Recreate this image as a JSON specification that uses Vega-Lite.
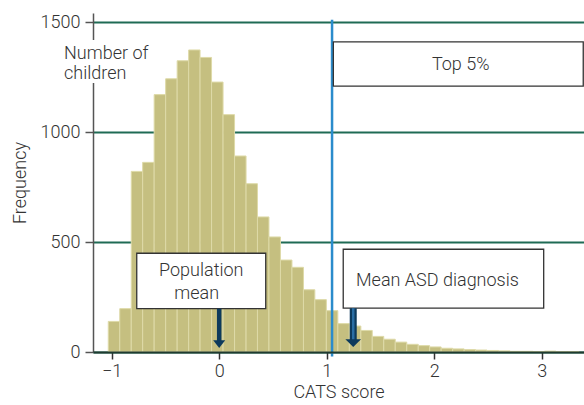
{
  "$schema": "https://vega.github.io/schema/vega-lite/v6.json",
  "width": 491,
  "height": 339,
  "autosize": {"type": "none"},
  "padding": {"left": 93, "top": 13, "right": 0, "bottom": 53},
  "config": {
    "view": {"stroke": null},
    "font": "Roboto",
    "axis": {
      "labelFont": "Roboto",
      "titleFont": "Roboto",
      "labelFontSize": 18,
      "titleFontSize": 18,
      "labelFontWeight": 300,
      "titleFontWeight": 300,
      "labelColor": "#333333",
      "titleColor": "#333333"
    }
  },
  "datasets": {
    "bins": [
      {"x": -1.032, "x2": -0.925, "y": 139},
      {"x": -0.925, "x2": -0.818, "y": 197},
      {"x": -0.818, "x2": -0.712, "y": 821},
      {"x": -0.712, "x2": -0.605, "y": 862},
      {"x": -0.605, "x2": -0.498, "y": 1170},
      {"x": -0.498, "x2": -0.391, "y": 1242},
      {"x": -0.391, "x2": -0.284, "y": 1324},
      {"x": -0.284, "x2": -0.178, "y": 1373},
      {"x": -0.178, "x2": -0.071, "y": 1339},
      {"x": -0.071, "x2": 0.036, "y": 1227},
      {"x": 0.036, "x2": 0.143, "y": 1079},
      {"x": 0.143, "x2": 0.25, "y": 891},
      {"x": 0.25, "x2": 0.356, "y": 765},
      {"x": 0.356, "x2": 0.463, "y": 614},
      {"x": 0.463, "x2": 0.57, "y": 523},
      {"x": 0.57, "x2": 0.677, "y": 418},
      {"x": 0.677, "x2": 0.784, "y": 385},
      {"x": 0.784, "x2": 0.89, "y": 283},
      {"x": 0.89, "x2": 0.997, "y": 238},
      {"x": 0.997, "x2": 1.104, "y": 188},
      {"x": 1.104, "x2": 1.211, "y": 129},
      {"x": 1.211, "x2": 1.318, "y": 118},
      {"x": 1.318, "x2": 1.424, "y": 98},
      {"x": 1.424, "x2": 1.531, "y": 71},
      {"x": 1.531, "x2": 1.638, "y": 58},
      {"x": 1.638, "x2": 1.745, "y": 45},
      {"x": 1.745, "x2": 1.852, "y": 35},
      {"x": 1.852, "x2": 1.958, "y": 29},
      {"x": 1.958, "x2": 2.065, "y": 23},
      {"x": 2.065, "x2": 2.172, "y": 17},
      {"x": 2.172, "x2": 2.279, "y": 14},
      {"x": 2.279, "x2": 2.386, "y": 11},
      {"x": 2.386, "x2": 2.492, "y": 9},
      {"x": 2.492, "x2": 2.599, "y": 7},
      {"x": 2.599, "x2": 2.706, "y": 5},
      {"x": 2.706, "x2": 2.813, "y": 3},
      {"x": 2.813, "x2": 2.92, "y": 3},
      {"x": 2.92, "x2": 3.026, "y": 2},
      {"x": 3.026, "x2": 3.133, "y": 4},
      {"x": 3.133, "x2": 3.24, "y": 2},
      {"x": 3.24, "x2": 3.347, "y": 2}
    ]
  },
  "encoding": {
    "x": {
      "field": "x",
      "type": "quantitative",
      "scale": {"domain": [-1.174, 3.394], "nice": false, "zero": false},
      "axis": {
        "title": "CATS score",
        "values": [-1, 0, 1, 2, 3],
        "format": "d",
        "grid": false,
        "zindex": 1,
        "domainColor": "#1f3a30",
        "domainWidth": 2,
        "tickColor": "#333333",
        "tickWidth": 1.5,
        "tickSize": 7,
        "labelPadding": 3,
        "titlePadding": 3
      }
    },
    "y": {
      "field": "y",
      "type": "quantitative",
      "scale": {"domain": [0, 1541], "nice": false},
      "axis": {
        "title": "Frequency",
        "values": [0, 500, 1000, 1500],
        "format": "d",
        "grid": true,
        "gridColor": "#1f6b55",
        "gridWidth": 2,
        "zindex": 0,
        "domainColor": "#555555",
        "domainWidth": 1.5,
        "tickColor": "#555555",
        "tickWidth": 1.5,
        "tickSize": 8,
        "labelPadding": 5,
        "titlePadding": 11
      }
    }
  },
  "layer": [
    {
      "data": {"name": "bins"},
      "mark": {"type": "bar", "fill": "#c5bf80", "stroke": "#dedaa8", "strokeWidth": 1},
      "encoding": {"x2": {"field": "x2"}, "y2": {"datum": 0}}
    },
    {
      "data": {"values": [{"x": 1.05, "y": -20, "y2": 1510}]},
      "mark": {"type": "rule", "color": "#2b8ccc", "strokeWidth": 2.5},
      "encoding": {"y2": {"field": "y2"}}
    },
    {
      "data": {"values": [
        {"x": -0.767, "x2": 0.433, "y": 197, "y2": 449},
        {"x": 1.154, "x2": 3.019, "y": 199, "y2": 467},
        {"x": 1.062, "x2": 3.387, "y": 1209, "y2": 1410}
      ]},
      "mark": {"type": "rect", "fill": "#ffffff", "stroke": "#333333", "strokeWidth": 1.3},
      "encoding": {"x2": {"field": "x2"}, "y2": {"field": "y2"}}
    },
    {
      "data": {"values": [{"x": -1.46, "x2": -0.63, "y": 1223, "y2": 1418}]},
      "mark": {"type": "rect", "fill": "#ffffff"},
      "encoding": {"x2": {"field": "x2"}, "y2": {"field": "y2"}}
    },
    {
      "data": {"values": [
        {"x": -0.167, "y": 347, "label": "Population"},
        {"x": -0.21, "y": 240, "label": "mean"},
        {"x": 2.247, "y": 1282, "label": "Top 5%"}
      ]},
      "mark": {"type": "text", "align": "center", "baseline": "alphabetic", "font": "Roboto", "fontWeight": 300, "fontSize": 18, "color": "#333333"},
      "encoding": {"text": {"field": "label"}}
    },
    {
      "data": {"values": [
        {"x": 1.273, "y": 300, "label": "Mean ASD diagnosis"},
        {"x": -1.443, "y": 1334, "label": "Number of"},
        {"x": -1.443, "y": 1240, "label": "children"}
      ]},
      "mark": {"type": "text", "align": "left", "baseline": "alphabetic", "font": "Roboto", "fontWeight": 300, "fontSize": 18, "color": "#333333"},
      "encoding": {"text": {"field": "label"}}
    },
    {
      "data": {"values": [{"x": 0, "y": 40, "y2": 197}]},
      "mark": {"type": "rule", "color": "#0d3a5c", "strokeWidth": 4.5},
      "encoding": {"y2": {"field": "y2"}}
    },
    {
      "data": {"values": [{"x": 1.247, "y": 42, "y2": 199}]},
      "mark": {"type": "rule", "color": "#0d3a5c", "strokeWidth": 7},
      "encoding": {"y2": {"field": "y2"}}
    },
    {
      "data": {"values": [{"x": 1.247, "y": 44, "y2": 199}]},
      "mark": {"type": "rule", "color": "#2a6ea4", "strokeWidth": 2.5},
      "encoding": {"y2": {"field": "y2"}}
    },
    {
      "data": {"values": [{"x": 0, "y": 37}]},
      "mark": {"type": "point", "shape": "M-1,-0.6L1,-0.6L0,0.7Z", "filled": true, "color": "#0d3a5c", "opacity": 1, "size": 144}
    },
    {
      "data": {"values": [{"x": 1.247, "y": 40}]},
      "mark": {"type": "point", "shape": "M-1,-0.5L1,-0.5L0,0.5Z", "filled": true, "color": "#0d3a5c", "opacity": 1, "size": 245}
    }
  ]
}
